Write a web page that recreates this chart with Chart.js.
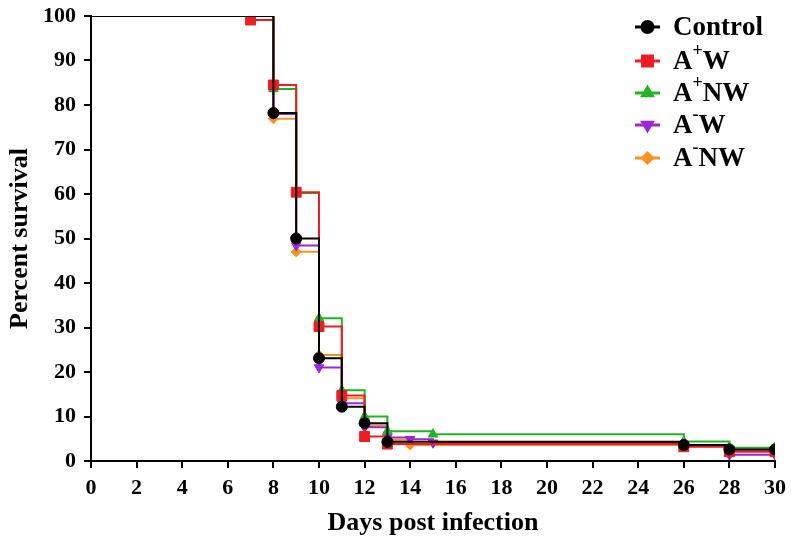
<!DOCTYPE html>
<html>
<head>
<meta charset="utf-8">
<script src="https://cdn.jsdelivr.net/npm/chart.js@4/dist/chart.umd.min.js"></script>
<style>
  html, body { margin: 0; padding: 0; background: #fff; }
  canvas { display: block; }
</style>
</head>
<body>
<canvas id="chart" width="792" height="546"></canvas>
<script>
// Kaplan-Meier survival curves: percent survival per day post infection
const seriesLabels = ['Control', 'A\u207AW', 'A\u207ANW', 'A\u207BW', 'A\u207BNW'];

const controlDays = [0, 8, 9, 10, 11, 12, 13, 26, 28, 30];
const controlSurv = [100, 78.2, 50.0, 23.1, 12.2, 8.5, 4.3, 3.6, 2.6, 2.6];

const apwDays = [0, 7, 8, 9, 10, 11, 12, 13, 26, 28, 30];
const apwSurv = [100, 99.1, 84.5, 60.4, 30.2, 14.7, 5.5, 3.8, 3.2, 2.1, 2.1];

const apnwDays = [0, 8, 9, 10, 11, 12, 13, 15, 26, 28, 30];
const apnwSurv = [100, 83.6, 60.2, 32.1, 15.9, 10.0, 6.7, 6.0, 4.4, 3.0, 3.0];

const amwDays = [0, 8, 9, 10, 11, 12, 13, 14, 15, 26, 28, 30];
const amwSurv = [100, 78.0, 48.4, 21.0, 13.0, 7.6, 5.3, 4.9, 4.1, 3.6, 1.4, 1.4];

const amnwDays = [0, 8, 9, 10, 11, 12, 13, 14, 26, 28, 30];
const amnwSurv = [100, 76.9, 47.0, 23.8, 14.1, 8.0, 4.8, 3.6, 3.3, 2.4, 2.4];

const xTickStep = 2;
const yTickStep = 10;

const FONT = '"Liberation Serif", "Times New Roman", serif';

function toPoints(days, surv) {
  return days.map((d, i) => ({ x: d, y: surv[i] }));
}

function makeSeries(label, days, surv, color, style, radius, rotation) {
  return {
    label: label,
    data: toPoints(days, surv),
    stepped: true,
    borderColor: color,
    backgroundColor: color,
    borderWidth: 2,
    pointStyle: style,
    pointRotation: rotation || 0,
    // no marker on the starting point at day 0
    pointRadius: days.map(d => (d === 0 ? 0 : radius)),
    pointBorderWidth: 1,
    pointBackgroundColor: color,
    pointBorderColor: color,
    fill: false
  };
}

const datasets = [
  makeSeries(seriesLabels[0], controlDays, controlSurv, '#000000', 'circle', 5.5),
  makeSeries(seriesLabels[1], apwDays, apwSurv, '#ee1c24', 'rect', 7),
  makeSeries(seriesLabels[2], apnwDays, apnwSurv, '#22b422', 'triangle', 5.5),
  makeSeries(seriesLabels[3], amwDays, amwSurv, '#9b27d8', 'triangle', 5.5, 180),
  makeSeries(seriesLabels[4], amnwDays, amnwSurv, '#f7931e', 'rectRot', 5)
];

// Legend drawn inside the plot area, top right, with raised +/- signs
const insideLegend = {
  id: 'insideLegend',
  afterDraw(chart) {
    const ctx = chart.ctx;
    const rows = [27, 61, 93, 125, 158];
    const lineX0 = 635, lineX1 = 660, textX = 673;
    chart.data.datasets.forEach((ds, i) => {
      const y = rows[i];
      ctx.save();
      ctx.strokeStyle = ds.borderColor;
      ctx.fillStyle = ds.borderColor;
      ctx.lineWidth = 3;
      ctx.beginPath();
      ctx.moveTo(lineX0, y);
      ctx.lineTo(lineX1, y);
      ctx.stroke();
      Chart.helpers.drawPoint(ctx, {
        pointStyle: ds.pointStyle,
        radius: Math.max(...ds.pointRadius),
        rotation: ds.pointRotation,
        borderWidth: 1
      }, (lineX0 + lineX1) / 2, y);
      ctx.restore();

      ctx.save();
      ctx.fillStyle = '#000';
      ctx.textBaseline = 'middle';
      ctx.textAlign = 'left';
      let x = textX;
      for (const ch of ds.label) {
        if (ch === '\u207A' || ch === '\u207B') {
          ctx.font = 'bold 18px ' + FONT;
          const s = ch === '\u207A' ? '+' : '-';
          ctx.fillText(s, x, y - 10);
          x += ctx.measureText(s).width;
        } else {
          ctx.font = 'bold 27px ' + FONT;
          ctx.fillText(ch, x, y + 1);
          x += ctx.measureText(ch).width;
        }
      }
      ctx.restore();
    });
  }
};

const tickFont = { family: FONT, size: 22, weight: 'bold' };

new Chart(document.getElementById('chart'), {
  type: 'line',
  data: { datasets: datasets },
  options: {
    responsive: false,
    animation: false,
    devicePixelRatio: 1,
    layout: { padding: { top: 16, right: 17, bottom: 0, left: 0 } },
    plugins: {
      legend: { display: false },
      tooltip: { enabled: false }
    },
    scales: {
      x: {
        type: 'linear',
        min: 0,
        max: 30,
        ticks: { stepSize: xTickStep, color: '#000', font: tickFont, padding: 7, maxRotation: 0 },
        grid: { drawOnChartArea: false, drawTicks: true, tickLength: 7, color: '#000', lineWidth: 2 },
        border: { display: true, color: '#000', width: 2 },
        title: {
          display: true,
          text: 'Days post infection',
          color: '#000',
          font: { family: FONT, size: 26, weight: 'bold' },
          padding: { top: 0, bottom: 7 }
        },
        afterFit(scale) {
          scale.height = 85;
          scale.paddingLeft = 0;
          scale.paddingRight = 0;
        }
      },
      y: {
        min: 0,
        max: 100,
        ticks: { stepSize: yTickStep, color: '#000', font: tickFont, padding: 8 },
        grid: { drawOnChartArea: false, drawTicks: true, tickLength: 7, color: '#000', lineWidth: 2 },
        border: { display: true, color: '#000', width: 2 },
        title: {
          display: true,
          text: 'Percent survival',
          color: '#000',
          font: { family: FONT, size: 26, weight: 'bold' },
          padding: { top: 5, bottom: 0 }
        },
        afterFit(scale) {
          scale.width = 91;
          scale.paddingTop = 0;
          scale.paddingBottom = 0;
        }
      }
    }
  },
  plugins: [insideLegend]
});
</script>
</body>
</html>
